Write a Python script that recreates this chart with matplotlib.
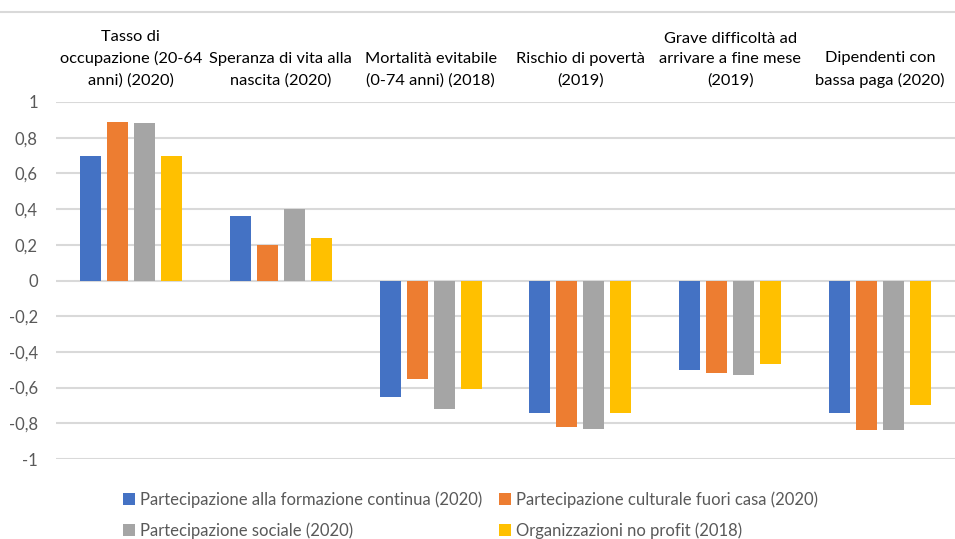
import numpy as np
import matplotlib.pyplot as plt
from matplotlib.patches import Patch
from matplotlib.lines import Line2D

# categories (indicators) and series values
categories = ['Tasso di\noccupazione (20-64\nanni) (2020)',
              'Speranza di vita alla\nnascita (2020)',
              'Mortalità evitabile\n(0-74 anni) (2018)',
              'Rischio di povertà\n(2019)',
              'Grave difficoltà ad\narrivare a fine mese\n(2019)',
              'Dipendenti con\nbassa paga (2020)']
formazione = [0.70, 0.36, -0.65, -0.74, -0.50, -0.74]
culturale = [0.89, 0.20, -0.55, -0.82, -0.52, -0.84]
sociale = [0.88, 0.40, -0.72, -0.83, -0.53, -0.84]
no_profit = [0.70, 0.24, -0.61, -0.74, -0.47, -0.70]
series_names = ['Partecipazione alla formazione continua (2020)',
                'Partecipazione culturale fuori casa (2020)',
                'Partecipazione sociale (2020)',
                'Organizzazioni no profit (2018)']
yticks = [1, 0.8, 0.6, 0.4, 0.2, 0, -0.2, -0.4, -0.6, -0.8, -1]
ytick_labels = ['1', '0,8', '0,6', '0,4', '0,2', '0', '-0,2', '-0,4', '-0,6', '-0,8', '-1']

colors = ['#4472C4', '#ED7D31', '#A5A5A5', '#FFC000']
txt_color = '#595959'
grid_color = '#D9D9D9'

plt.rcParams['font.family'] = ['Lato', 'DejaVu Sans']

fig = plt.figure(figsize=(9.55, 5.39), dpi=100)
ax = fig.add_axes([56/955, 1 - 459/539, 899/955, 357/539])

x = np.arange(len(categories))
width = 0.14
step = 0.18
all_series = [formazione, culturale, sociale, no_profit]
for i, vals in enumerate(all_series):
    ax.bar(x + (i - 1.5) * step, vals, width, color=colors[i], zorder=3)

ax.set_xlim(-0.5, len(categories) - 0.5)
ax.set_ylim(-1, 1)
ax.set_yticks(yticks)
ax.set_yticklabels(ytick_labels)
ax.set_xticks([])
ax.tick_params(axis='y', length=0, pad=13, labelsize=12, labelcolor=txt_color)
ax.grid(axis='y', color=grid_color, linewidth=1.5, zorder=0)
for s in ax.spines.values():
    s.set_visible(False)

# category labels above the plot
for xi, lab in zip(x, categories):
    ax.text(xi, 1.04, lab, transform=ax.get_xaxis_transform(), ha='center', va='bottom',
            multialignment='center', fontsize=11.8, color='black', linespacing=1.62)

# separator line at the top (title cut off in the source)
fig.add_artist(Line2D([0, 1], [1 - 12/539, 1 - 12/539], color=grid_color, linewidth=1.5))

# legend filled row by row, like the source
order = [0, 2, 1, 3]
handles = [Patch(facecolor=colors[k]) for k in order]
labels = [series_names[k] for k in order]
fig.legend(handles, labels, loc='upper left', bbox_to_anchor=(110/955, 1 - 478/539),
           ncol=2, frameon=False, fontsize=12.0, labelcolor=txt_color,
           handlelength=0.7, handleheight=0.7, handletextpad=0.3, columnspacing=1.0,
           labelspacing=0.85, borderpad=0.3)

fig.savefig('out.png', dpi=100)
